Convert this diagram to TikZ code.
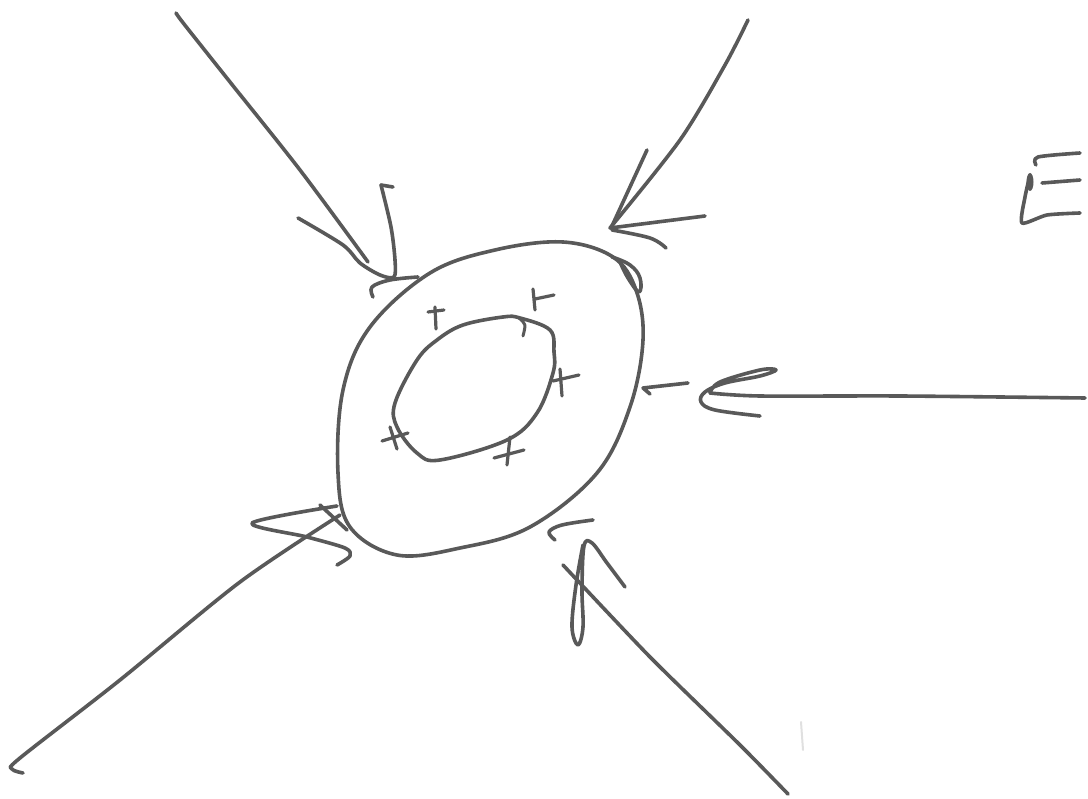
\documentclass[tikz,border=0pt]{standalone}
\begin{document}
\begin{tikzpicture}[x=1pt,y=-1pt,
  pen/.style={draw=black!65, line width=3.6pt, line cap=round, line join=round},
  faint/.style={draw=black!12, line width=2pt, line cap=round}]
\useasboundingbox[fill=white] (0,0) rectangle (1088,799);
% outer ring
\draw[pen] plot[smooth cycle, tension=0.6] coordinates {(563,242) (613,257) (636,290) (643,340) (630,407) (597,473) (530,527) (460,548) (397,555) (350,527) (338,473) (343,390) (370,327) (430,273) (495,250)};
% doubled stroke on outer ring
\draw[pen] plot[smooth, tension=0.7] coordinates {(612,257) (630,265) (640,278) (639,292) (628,278) (620,262)};
% inner ring
\draw[pen] plot[smooth cycle, tension=0.6] coordinates {(520,318) (550,330) (554,352) (553,373) (537,413) (507,440) (440,460) (417,453) (397,427) (395,403) (417,360) (437,340) (463,325) (503,317)};
\draw[pen, line width=3pt] (519,318) .. controls (526,324) .. (523,336);
% plus signs
\draw[pen, line width=3.2pt] (435,307) -- (436,329) (428,312) -- (444,310);
\draw[pen, line width=3.2pt] (533,289) -- (535,310) (535,299) -- (554,295);
\draw[pen, line width=3.2pt] (560,369) -- (562,396) (553,381) -- (579,375);
\draw[pen, line width=3.2pt] (510,437) -- (507,465) (494,458) -- (524,450);
\draw[pen, line width=3.2pt] (382,441) -- (408,433) (390,427) -- (397,449);
% top-left arrow
\draw[pen] plot[smooth, tension=0.5] coordinates {(176,13) (184,24) (230,82) (300,170) (368,262)};
\draw[pen] plot[smooth, tension=0.5] coordinates {(298,218) (343,245) (360,263) (380,275) (394,277) (395,260) (391,227) (381,185)};
\draw[pen] (381,185) -- (393,187);
\draw[pen] plot[smooth, tension=0.6] coordinates {(373,297) (372,287) (390,280) (418,277)};
% top-right arrow
\draw[pen] plot[smooth, tension=0.5] coordinates {(748,20) (725,65) (680,140) (610,228)};
\draw[pen] (647,150) -- (612,226);
\draw[pen] (610,228) -- (705,216);
\draw[pen] plot[smooth, tension=0.6] coordinates {(612,230) (650,238) (666,248)};
% right arrow
\draw[pen] plot[smooth, tension=0.5] coordinates {(1085,398) (900,396) (760,396) (710,393)};
\draw[pen] plot[smooth, tension=0.6] coordinates {(710,393) (720,382) (760,370) (776,370) (760,376) (725,383) (705,392) (701,402) (715,410) (760,416)};
\draw[pen] (650,394) -- (643,388) -- (688,383);
% bottom-right arrow
\draw[pen] plot[smooth, tension=0.4] coordinates {(563,565) (650,657) (740,745) (788,794)};
\draw[pen] plot[smooth, tension=0.6] coordinates {(625,587) (607,563) (592,543) (584,546) (582,590) (583,627) (578,645) (572,627) (576,585) (583,545)};
\draw[pen] plot[smooth, tension=0.6] coordinates {(555,540) (549,532) (562,525) (593,520)};
% bottom-left arrow
\draw[pen] plot[smooth, tension=0.5] coordinates {(23,773) (12,769) (20,758) (120,680) (240,582) (340,515)};
\draw[pen] (320,505) -- (347,530);
\draw[pen] plot[smooth, tension=0.5] coordinates {(337,506) (252,523) (307,537) (345,548) (350,556) (337,565)};
% faint mark
\draw[faint] (801,722) -- (803,750);
% E
\draw[pen] plot[smooth, tension=0.5] coordinates {(1036,165) (1038,157) (1080,153)};
\draw[pen] (1042,183) -- (1080,180);
\draw[pen] plot[smooth, tension=0.4] coordinates {(1030,175) (1025,197) (1022,223) (1047,215) (1080,213)};
\fill[black!65] (1030,182) ellipse (3.5pt and 9pt);
\end{tikzpicture}
\end{document}
